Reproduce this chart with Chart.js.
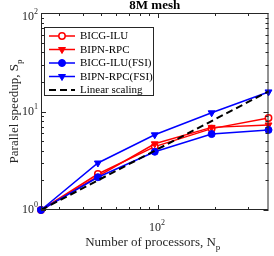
<!DOCTYPE html>
<html>
<head>
<meta charset="utf-8">
<script src="https://cdn.jsdelivr.net/npm/chart.js@4.4.1/dist/chart.umd.min.js"></script>
<style>
  html, body { margin: 0; padding: 0; background: #fff; }
</style>
</head>
<body>
<canvas id="speedupChart" width="274" height="256"></canvas>
<script>
// number of processors and speedups
const procs = [24, 48, 96, 192, 384];
const bicgIlu = [1, 2.32, 4.4, 6.7, 8.6];
const bipnRpc = [1, 2.2, 4.7, 6.9, 7.3];
const bicgIluFsi = [1, 2.15, 3.9, 5.9, 6.5];
const bipnRpcFsi = [1, 3.0, 5.8, 9.7, 15.8];
const linearScaling = [1, 2, 4, 8, 16];

const xTicks = [30, 40, 50, 60, 70, 80, 90, 100, 200, 300];
const yTicks = [1, 2, 3, 4, 5, 6, 7, 8, 9, 10, 20, 30, 40, 50, 60, 70, 80, 90, 100];

const serif = '"Liberation Serif", "DejaVu Serif", serif';
const ink = '#262626';

function toPoints(vals) {
    return procs.map((n, i) => ({ x: n, y: vals[i] }));
}

function isPow10(v) {
    const l = Math.log10(v);
    return Math.abs(l - Math.round(l)) < 1e-9;
}

// text with a small raised/lowered part, e.g. 10^2 or S_p
function drawScripted(ctx, main, small, x, y, size, lift, align) {
    ctx.font = size + 'px ' + serif;
    const w1 = ctx.measureText(main).width;
    ctx.font = Math.round(size * 0.68) + 'px ' + serif;
    const w2 = ctx.measureText(small).width;
    let start = x;
    if (align === 'center') start = x - (w1 + w2) / 2;
    if (align === 'right') start = x - (w1 + w2);
    ctx.textAlign = 'left';
    ctx.font = size + 'px ' + serif;
    ctx.fillText(main, start, y);
    ctx.font = Math.round(size * 0.68) + 'px ' + serif;
    ctx.fillText(small, start + w1, y + lift);
}

const matlabFrame = {
    id: 'matlabFrame',
    afterDraw(chart) {
        const ctx = chart.ctx;
        const a = chart.chartArea;
        const xs = chart.scales.x;
        const ys = chart.scales.y;
        ctx.save();

        // inward ticks on all four sides
        ctx.strokeStyle = ink;
        ctx.lineWidth = 1;
        ctx.beginPath();
        xs.ticks.forEach(t => {
            const px = Math.round(xs.getPixelForValue(t.value)) + 0.5;
            const len = isPow10(t.value) ? 5 : 3;
            ctx.moveTo(px, a.bottom); ctx.lineTo(px, a.bottom - len);
            ctx.moveTo(px, a.top); ctx.lineTo(px, a.top + len);
        });
        ys.ticks.forEach(t => {
            const py = Math.round(ys.getPixelForValue(t.value)) + 0.5;
            const len = isPow10(t.value) ? 5 : 3;
            ctx.moveTo(a.left, py); ctx.lineTo(a.left + len, py);
            ctx.moveTo(a.right, py); ctx.lineTo(a.right - len, py);
        });
        ctx.stroke();
        ctx.strokeRect(a.left + 0.5, a.top + 0.5, a.right - a.left - 1, a.bottom - a.top - 1);

        // tick labels 10^n
        ctx.fillStyle = ink;
        ctx.textBaseline = 'middle';
        ys.ticks.forEach(t => {
            if (!isPow10(t.value)) return;
            const py = ys.getPixelForValue(t.value);
            drawScripted(ctx, '10', String(Math.round(Math.log10(t.value))), a.left - 3, Math.max(py, 17), 12, -5, 'right');
        });
        xs.ticks.forEach(t => {
            if (!isPow10(t.value)) return;
            const px = xs.getPixelForValue(t.value);
            drawScripted(ctx, '10', String(Math.round(Math.log10(t.value))), px - 1, a.bottom + 18, 12, -5, 'center');
        });

        // title and axis titles
        ctx.textBaseline = 'middle';
        ctx.textAlign = 'center';
        ctx.font = 'bold 13px ' + serif;
        ctx.fillStyle = '#000';
        ctx.fillText('8M mesh', (a.left + a.right) / 2, 6);

        ctx.fillStyle = ink;
        ctx.textBaseline = 'alphabetic';
        drawScripted(ctx, 'Number of processors, N', 'p', (a.left + a.right) / 2 - 2, 246, 13, 4, 'center');
        ctx.save();
        ctx.translate(18, (a.top + a.bottom) / 2);
        ctx.rotate(-Math.PI / 2);
        drawScripted(ctx, 'Parallel speedup, S', 'p', 0, 0, 13, 4, 'center');
        ctx.restore();

        // legend in the upper left corner
        const box = { x: 44, y: 27, w: 110, h: 69 };
        ctx.fillStyle = '#fff';
        ctx.fillRect(box.x, box.y, box.w, box.h);
        ctx.strokeStyle = ink;
        ctx.lineWidth = 1;
        ctx.strokeRect(box.x + 0.5, box.y + 0.5, box.w - 1, box.h - 1);
        chart.data.datasets.forEach((ds, i) => {
            const ry = box.y + 9 + i * 13.5;
            ctx.save();
            ctx.strokeStyle = ds.borderColor;
            ctx.lineWidth = ds.borderWidth;
            ctx.setLineDash(ds.borderDash || []);
            ctx.beginPath();
            ctx.moveTo(box.x + 5, ry);
            ctx.lineTo(box.x + 31, ry);
            ctx.stroke();
            ctx.setLineDash([]);
            if (ds.pointRadius > 0) {
                ctx.fillStyle = ds.backgroundColor;
                ctx.lineWidth = ds.pointBorderWidth;
                Chart.helpers.drawPoint(ctx, {
                    pointStyle: ds.pointStyle,
                    rotation: ds.pointRotation || 0,
                    radius: ds.pointRadius,
                    borderWidth: ds.pointBorderWidth
                }, box.x + 18, ry);
            }
            ctx.restore();
            ctx.fillStyle = '#000';
            ctx.font = '11px ' + serif;
            ctx.textAlign = 'left';
            ctx.textBaseline = 'middle';
            ctx.fillText(ds.label, box.x + 36, ry + 0.5);
        });

        ctx.restore();
    }
};

new Chart(document.getElementById('speedupChart').getContext('2d'), {
    type: 'line',
    data: {
        datasets: [
            {
                label: 'BICG-ILU',
                data: toPoints(bicgIlu),
                borderColor: '#ff0000',
                backgroundColor: '#ffffff',
                borderWidth: 1.5,
                pointStyle: 'circle',
                pointRadius: 3.2,
                pointBorderWidth: 1.5,
                order: 4
            },
            {
                label: 'BIPN-RPC',
                data: toPoints(bipnRpc),
                borderColor: '#ff0000',
                backgroundColor: '#ff0000',
                borderWidth: 1.5,
                pointStyle: 'triangle',
                pointRotation: 180,
                pointRadius: 4,
                pointBorderWidth: 1,
                order: 3
            },
            {
                label: 'BICG-ILU(FSI)',
                data: toPoints(bicgIluFsi),
                borderColor: '#0000ff',
                backgroundColor: '#0000ff',
                borderWidth: 1.5,
                pointStyle: 'circle',
                pointRadius: 3.5,
                pointBorderWidth: 1,
                order: 2
            },
            {
                label: 'BIPN-RPC(FSI)',
                data: toPoints(bipnRpcFsi),
                borderColor: '#0000ff',
                backgroundColor: '#0000ff',
                borderWidth: 1.5,
                pointStyle: 'triangle',
                pointRotation: 180,
                pointRadius: 4,
                pointBorderWidth: 1,
                order: 1
            },
            {
                label: 'Linear scaling',
                data: toPoints(linearScaling),
                borderColor: '#000000',
                backgroundColor: '#000000',
                borderWidth: 2,
                borderDash: [7, 4],
                pointRadius: 0,
                pointBorderWidth: 0,
                order: 0
            }
        ]
    },
    options: {
        responsive: false,
        animation: false,
        events: [],
        clip: false,
        layout: { padding: { top: 13, right: 2, left: 0, bottom: 0 } },
        plugins: {
            legend: { display: false },
            tooltip: { enabled: false },
            title: { display: false }
        },
        elements: { line: { tension: 0 } },
        scales: {
            x: {
                type: 'logarithmic',
                min: 24,
                max: 384,
                grid: { display: false },
                border: { display: false },
                ticks: { display: false },
                afterBuildTicks: s => { s.ticks = xTicks.map(v => ({ value: v })); },
                afterFit: s => { s.height = 46; }
            },
            y: {
                type: 'logarithmic',
                min: 1,
                max: 100,
                grid: { display: false },
                border: { display: false },
                ticks: { display: false },
                afterBuildTicks: s => { s.ticks = yTicks.map(v => ({ value: v })); },
                afterFit: s => { s.width = 41; }
            }
        }
    },
    plugins: [matlabFrame]
});
</script>
</body>
</html>
